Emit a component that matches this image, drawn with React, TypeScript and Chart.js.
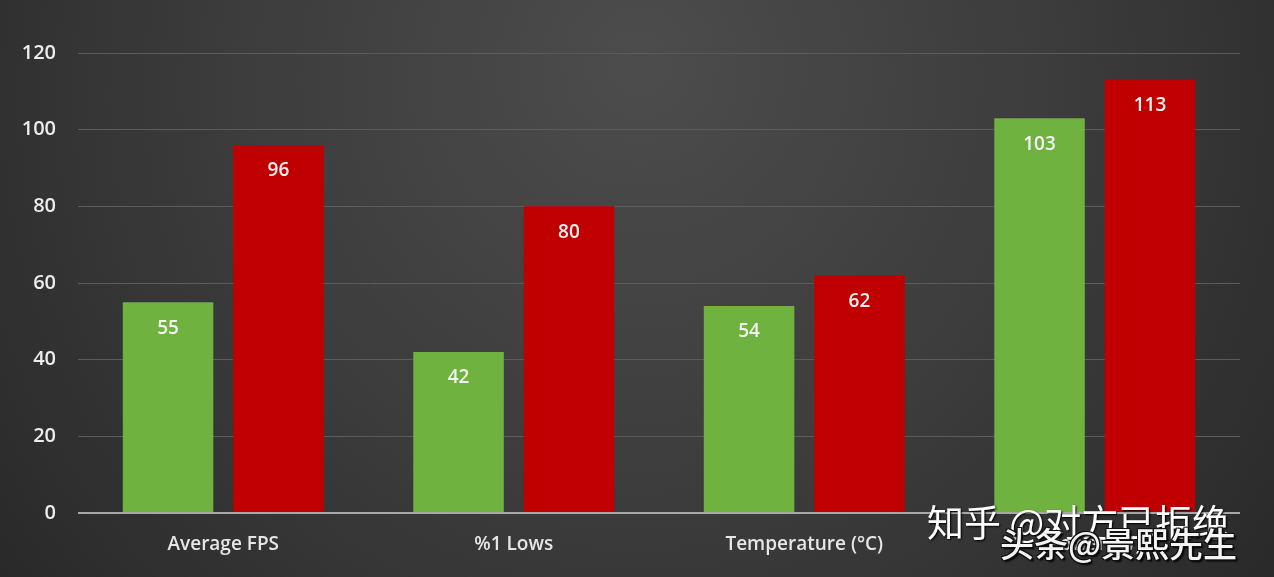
import React, { useEffect, useRef } from "react";
import { Chart, registerables } from "chart.js";

Chart.register(...registerables);

const categories = ["Average FPS", "%1 Lows", "Temperature (°C)", "Power (W)"];
const greenValues = [55, 42, 54, 103];
const redValues = [96, 80, 62, 113];
const yTicks = [0, 20, 40, 60, 80, 100, 120];

const FONT = "'Open Sans', 'Noto Sans', sans-serif";

const bgPlugin = {
  id: "bgPlugin",
  beforeDraw(chart: any) {
    const { ctx, width, height } = chart;
    ctx.save();
    ctx.fillStyle = "#2a2a2a";
    ctx.fillRect(0, 0, width, height);
    const g = ctx.createRadialGradient(640, 60, 10, 640, 120, 900);
    g.addColorStop(0, "#4c4c4c");
    g.addColorStop(0.45, "#3c3c3c");
    g.addColorStop(1, "#242424");
    ctx.fillStyle = g;
    ctx.fillRect(0, 0, width, height);
    ctx.restore();
  },
};

const labelPlugin = {
  id: "labelPlugin",
  afterDatasetsDraw(chart: any) {
    const { ctx } = chart;
    ctx.save();
    ctx.font = `600 19px ${FONT}`;
    ctx.fillStyle = "#f2f2f2";
    ctx.textAlign = "center";
    ctx.textBaseline = "middle";
    chart.data.datasets.forEach((ds: any, i: number) => {
      const meta = chart.getDatasetMeta(i);
      meta.data.forEach((bar: any, j: number) => {
        ctx.fillText(String(ds.data[j]), bar.x, bar.y + 26);
      });
    });
    ctx.restore();
  },
};

export default function App() {
  const ref = useRef<HTMLCanvasElement | null>(null);
  useEffect(() => {
    document.body.style.margin = "0";
    const chart = new Chart(ref.current as HTMLCanvasElement, {
      type: "bar",
      data: {
        labels: categories,
        datasets: [
          { data: greenValues, backgroundColor: "#6fb23f", categoryPercentage: 0.76, barPercentage: 0.82 },
          { data: redValues, backgroundColor: "#c00000", categoryPercentage: 0.76, barPercentage: 0.82 },
        ],
      },
      options: {
        animation: false,
        responsive: false,
        layout: { padding: { top: 53, right: 34, left: 0, bottom: 0 } },
        plugins: { legend: { display: false }, tooltip: { enabled: false } },
        scales: {
          x: {
            grid: { display: false },
            border: { display: false },
            ticks: { color: "#e6e6e6", font: { family: FONT, size: 19, weight: "600" }, padding: 12, autoSkip: false, maxRotation: 0 },
            afterFit: (s: any) => { s.height = 64; },
          },
          y: {
            min: 0,
            max: 120,
            afterBuildTicks: (s: any) => { s.ticks = yTicks.map((v) => ({ value: v })); },
            grid: {
              color: (c: any) => (c.tick && c.tick.value === 0 ? "#a8a8a8" : "#5c5c5c"),
              lineWidth: (c: any) => (c.tick && c.tick.value === 0 ? 2 : 1),
              drawTicks: false,
            },
            border: { display: false },
            ticks: { color: "#ececec", font: { family: FONT, size: 20, weight: "600" }, padding: 22 },
            afterFit: (s: any) => { s.width = 78; },
          },
        },
      },
      plugins: [bgPlugin, labelPlugin],
    });
    return () => chart.destroy();
  }, []);
  const outline = "-1px -1px 0 #111, 1px -1px 0 #111, -1px 1px 0 #111, 1px 1px 0 #111, 2px 2px 2px #000";
  return (
    <div style={{ position: "relative", width: 1274, height: 577, overflow: "hidden" }}>
      <canvas ref={ref} width={1274} height={577} style={{ display: "block" }} />
      <div
        style={{
          position: "absolute", left: 927, top: 496, fontFamily: "'Noto Sans CJK SC', sans-serif",
          fontSize: 37, lineHeight: "50px", color: "#ffffff", textShadow: "1px 1px 2px #000", whiteSpace: "nowrap",
        }}
      >
        知乎 @对方已拒绝
      </div>
      <div
        style={{
          position: "absolute", left: 1000, top: 520, fontFamily: "'Noto Sans CJK SC', sans-serif",
          fontSize: 34, fontWeight: 500, lineHeight: "46px", color: "#f4f4f4", textShadow: outline, whiteSpace: "nowrap",
        }}
      >
        头条@景熙先生
      </div>
    </div>
  );
}
